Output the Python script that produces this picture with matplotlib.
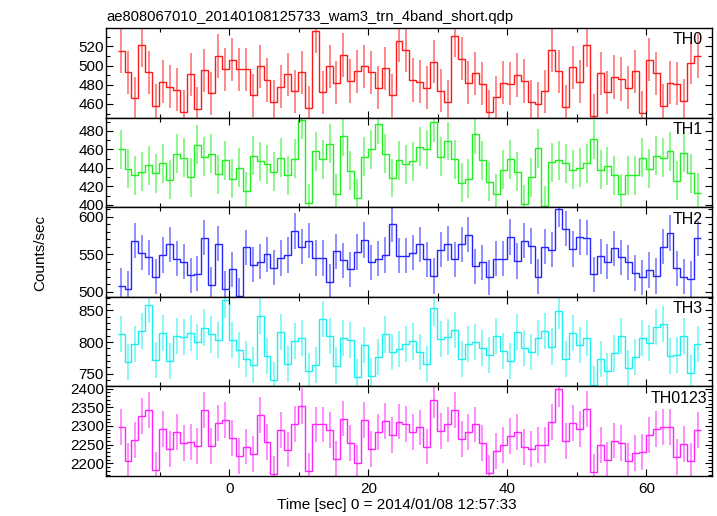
import numpy as np
import matplotlib
matplotlib.use("Agg")
import matplotlib.pyplot as plt
from matplotlib.ticker import MultipleLocator

plt.rcParams['font.family'] = ['Liberation Sans', 'DejaVu Sans']

# 1 s bins, start of the first bin relative to 2014/01/08 12:57:33
t_start = -16.1
bin_size = 1.0

th0 = [515, 493, 466, 521, 493, 458, 483, 478, 475, 452,
       491, 455, 495, 471, 510, 496, 506, 496, 496, 469,
       499, 485, 462, 478, 491, 473, 493, 456, 536, 472,
       499, 482, 511, 484, 494, 499, 493, 477, 497, 469,
       526, 516, 485, 483, 477, 504, 474, 462, 531, 507,
       482, 492, 481, 452, 467, 482, 481, 490, 484, 462,
       460, 473, 516, 494, 457, 498, 483, 521, 448, 492,
       472, 488, 486, 477, 494, 451, 506, 492, 458, 482,
       481, 463, 503, 510]

th1 = [460, 439, 432, 436, 443, 434, 445, 427, 455, 451,
       430, 465, 452, 455, 433, 448, 428, 440, 415, 453,
       447, 444, 436, 451, 432, 450, 492, 402, 458, 449,
       466, 412, 474, 437, 407, 452, 460, 487, 455, 429,
       448, 444, 447, 463, 460, 489, 452, 469, 449, 424,
       428, 476, 448, 425, 412, 438, 449, 436, 401, 430,
       461, 399, 446, 448, 445, 438, 440, 445, 471, 438,
       442, 432, 412, 432, 432, 451, 439, 453, 451, 458,
       426, 456, 434, 413]

th2 = [508, 504, 568, 552, 546, 520, 549, 563, 544, 540,
       522, 524, 572, 509, 564, 504, 530, 495, 559, 536,
       540, 550, 532, 545, 549, 581, 560, 568, 545, 545,
       513, 554, 542, 530, 553, 569, 539, 544, 549, 590,
       548, 548, 552, 563, 543, 521, 556, 564, 543, 563,
       576, 534, 539, 519, 544, 544, 573, 541, 568, 561,
       520, 560, 556, 610, 584, 557, 573, 572, 523, 547,
       540, 558, 546, 539, 525, 519, 529, 521, 560, 578,
       531, 520, 517, 571]

th3 = [813, 769, 797, 818, 858, 771, 815, 770, 809, 808,
       814, 800, 823, 812, 803, 867, 804, 788, 773, 764,
       841, 778, 740, 816, 765, 802, 806, 755, 764, 837,
       810, 763, 807, 804, 745, 796, 747, 776, 812, 785,
       789, 797, 801, 785, 766, 854, 805, 808, 819, 773,
       797, 800, 791, 779, 810, 786, 770, 816, 790, 785,
       806, 818, 793, 849, 773, 815, 796, 807, 733, 774,
       755, 782, 810, 759, 777, 807, 799, 824, 828, 778,
       780, 810, 751, 797]

th0123 = [2298, 2206, 2262, 2327, 2343, 2183, 2292, 2238, 2285, 2254,
          2258, 2247, 2343, 2247, 2308, 2316, 2268, 2220, 2245, 2225,
          2329, 2258, 2172, 2289, 2237, 2305, 2354, 2180, 2304, 2304,
          2289, 2212, 2320, 2254, 2201, 2316, 2238, 2285, 2313, 2275,
          2312, 2306, 2285, 2296, 2245, 2370, 2287, 2304, 2343, 2266,
          2284, 2304, 2255, 2175, 2234, 2249, 2273, 2283, 2243, 2238,
          2249, 2249, 2311, 2400, 2259, 2308, 2293, 2345, 2177, 2249,
          2210, 2261, 2254, 2206, 2228, 2231, 2275, 2292, 2297, 2297,
          2218, 2252, 2206, 2289]

# typical 1-sigma error of each band (counts/sec)
errors = [22.5, 21, 23.5, 28.5, 48]

names = ['TH0', 'TH1', 'TH2', 'TH3', 'TH0123']
colors = ['#ff1a1a', '#22ee22', '#2424ff', '#1af0f0', '#ff22ff']
series = [th0, th1, th2, th3, th0123]
ylims = [(445.8, 539), (397.5, 494.2), (493.3, 612.5), (730, 871.5), (2166, 2406)]
ymajor = [20, 20, 50, 50, 50]

fig = plt.figure(figsize=(7.17, 5.16), dpi=100)
axes = fig.subplots(5, 1, sharex=True)
fig.subplots_adjust(left=0.148, right=0.9926, top=0.9457, bottom=0.0775, hspace=0)

n = len(th0)
edges = t_start + bin_size * np.arange(n + 1)
centers = 0.5 * (edges[:-1] + edges[1:])

for i, ax in enumerate(axes):
    vals = np.array(series[i], dtype=float)
    ax.stairs(vals, edges, baseline=None, color=colors[i], lw=1.0)
    ax.errorbar(centers, vals, yerr=errors[i], fmt='none',
                ecolor=colors[i], elinewidth=1.2, alpha=0.6, capsize=0)
    ax.set_ylim(*ylims[i])
    ax.yaxis.set_major_locator(MultipleLocator(ymajor[i]))
    ax.yaxis.set_minor_locator(MultipleLocator(10))
    ax.xaxis.set_major_locator(MultipleLocator(20))
    ax.xaxis.set_minor_locator(MultipleLocator(10))
    ax.tick_params(which='both', direction='in', top=True, right=True,
                   labelsize=11, width=0.8)
    ax.tick_params(which='major', length=5)
    ax.tick_params(which='minor', length=3)
    ax.tick_params(axis='y', pad=1.5)
    ax.tick_params(axis='x', pad=4)
    for sp in ax.spines.values():
        sp.set_linewidth(1.0)
    xr = 0.993 if names[i] == 'TH0123' else 0.985
    ax.text(xr, 0.95, names[i], transform=ax.transAxes, ha='right', va='top',
            fontsize=11.5)

axes[-1].set_xlim(-17.75, 69.4)

fig.text(0.149, 1 - 21 / 516, 'ae808067010_20140108125733_wam3_trn_4band_short.qdp',
         ha='left', va='baseline', fontsize=10.6)
fig.text(0.056, 0.51, 'Counts/sec', rotation=90, ha='center', va='center',
         fontsize=11)
fig.text(0.553, 1 - 505 / 516, 'Time [sec] 0 = 2014/01/08 12:57:33',
         ha='center', va='center', fontsize=11)

fig.savefig('out.png', dpi=100)
